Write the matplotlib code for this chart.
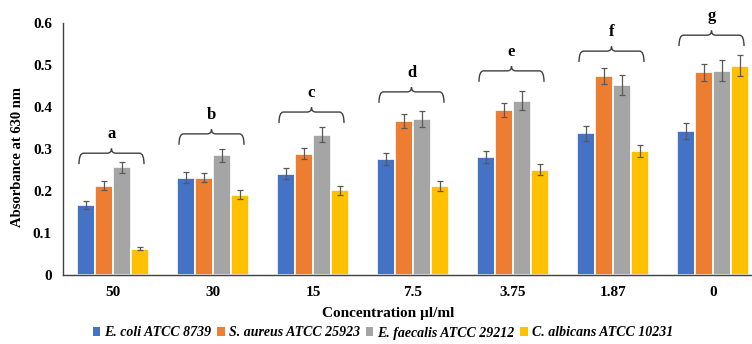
import numpy as np
import matplotlib.pyplot as plt
from matplotlib.path import Path
from matplotlib.patches import PathPatch, Patch

plt.rcParams['font.family'] = 'Liberation Serif'

concentrations = ["50", "30", "15", "7.5", "3.75", "1.87", "0"]
series_names = ["E. coli ATCC 8739", "S. aureus ATCC 25923",
                "E. faecalis ATCC 29212", "C. albicans ATCC 10231"]
colors = ["#4472C4", "#ED7D31", "#A5A5A5", "#FFC000"]

ecoli = [0.167, 0.232, 0.241, 0.277, 0.281, 0.337, 0.342]
saureus = [0.213, 0.232, 0.289, 0.367, 0.393, 0.474, 0.483]
efaecalis = [0.256, 0.285, 0.334, 0.372, 0.415, 0.452, 0.486]
calbicans = [0.063, 0.191, 0.202, 0.213, 0.251, 0.295, 0.498]

ecoli_err = [0.010, 0.013, 0.013, 0.014, 0.015, 0.017, 0.019]
saureus_err = [0.010, 0.011, 0.013, 0.016, 0.016, 0.020, 0.020]
efaecalis_err = [0.013, 0.015, 0.018, 0.019, 0.023, 0.024, 0.025]
calbicans_err = [0.004, 0.011, 0.011, 0.012, 0.014, 0.015, 0.025]

letters = ["a", "b", "c", "d", "e", "f", "g"]
brace_levels = [0.29, 0.336, 0.388, 0.436, 0.486, 0.533, 0.571]  # horizontal line of brace

values = [ecoli, saureus, efaecalis, calbicans]
errors = [ecoli_err, saureus_err, efaecalis_err, calbicans_err]


def draw_brace(ax, x0, x1, y, drop=0.026, tip=0.011, r=0.045):
    xc = (x0 + x1) / 2
    verts = [(x0, y - drop), (x0, y), (x0 + r, y),
             (xc - r, y), (xc, y), (xc, y + tip),
             (xc, y), (xc + r, y),
             (x1 - r, y), (x1, y), (x1, y - drop)]
    codes = [Path.MOVETO, Path.CURVE3, Path.CURVE3,
             Path.LINETO, Path.CURVE3, Path.CURVE3,
             Path.CURVE3, Path.CURVE3,
             Path.LINETO, Path.CURVE3, Path.CURVE3]
    ax.add_patch(PathPatch(Path(verts, codes), fill=False, edgecolor="#404040",
                           linewidth=1.0, clip_on=False))


fig = plt.figure(figsize=(7.52, 3.44), dpi=100)
ax = fig.add_axes([63 / 752, 69 / 344, 700 / 752, 252 / 344])

x = np.arange(len(concentrations))
step = 0.18
for i, (vals, errs) in enumerate(zip(values, errors)):
    ax.bar(x + (i - 1.5) * step, vals, width=step, color=colors[i],
           edgecolor="white", linewidth=1.2, yerr=errs,
           error_kw=dict(ecolor="#595959", elinewidth=0.9, capsize=2.5, capthick=0.9))

for xi, lvl, let in zip(x, brace_levels, letters):
    draw_brace(ax, xi - 0.34, xi + 0.31, lvl)
    ax.text(xi - 0.015, lvl + 0.045, let, ha="center", va="center",
            fontsize=12, fontweight="bold", clip_on=False)

ax.set_xlim(-0.5, 6.5)
ax.set_ylim(0, 0.6)
ax.set_xticks(x)
ax.set_xticklabels(concentrations, fontsize=11, fontweight="bold")
ax.set_yticks(np.arange(0, 0.61, 0.1))
ax.set_yticklabels(["0", "0.1", "0.2", "0.3", "0.4", "0.5", "0.6"],
                   fontsize=11, fontweight="bold")
ax.tick_params(axis="x", length=0, pad=8)
ax.tick_params(axis="y", length=0, pad=8)
for s in ["top", "right"]:
    ax.spines[s].set_visible(False)
ax.spines["left"].set_color("#404040")
ax.spines["bottom"].set_color("#404040")
ax.spines["left"].set_linewidth(1.0)
ax.spines["bottom"].set_linewidth(1.0)

fig.text(18 / 752, 1 - 157 / 344, "Absorbance at 630 nm", rotation=90,
         ha="center", va="center", fontsize=10.5, fontweight="bold")
fig.text(388 / 752, 1 - 314 / 344, "Concentration \u00b5l/ml",
         ha="center", va="center", fontsize=11, fontweight="bold")

handles = [Patch(facecolor=c) for c in colors]
fig.legend(handles, series_names, loc="center", bbox_to_anchor=(383 / 752, 1 - 333 / 344),
           ncol=4, frameon=False, handlelength=0.55, handleheight=0.55,
           handletextpad=0.3, columnspacing=0.4,
           prop=dict(family="Liberation Serif", style="italic", weight="bold", size=10))

fig.savefig("out.png", dpi=100)
